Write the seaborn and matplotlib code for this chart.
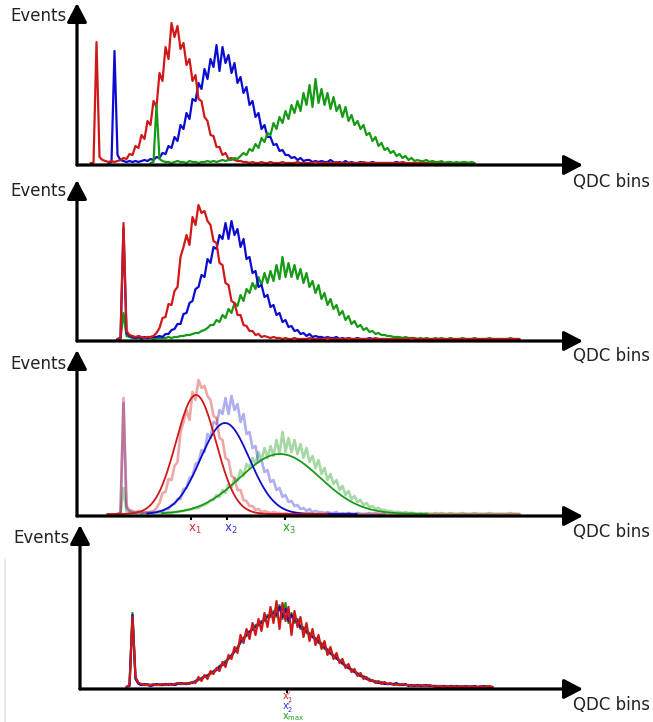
import numpy as np
import matplotlib
matplotlib.use("Agg")
import matplotlib.pyplot as plt
import seaborn as sns

# ---------------------------------------------------------------------------
# Spectra: counts per bin (bin width BIN_W QDC channels), each series starts
# at bin index *_START of its panel's channel grid.
# ---------------------------------------------------------------------------
BIN_W = 6

# Panel 1 - raw spectra, three detectors before gain matching
P1_RED_START = 4
P1_RED = [0, 0, 121, 6, 3, 2, 1, 2, 1, 2,
          3, 5, 4, 9, 8, 17, 15, 28, 24, 42,
          38, 62, 56, 90, 82, 116, 104, 140, 126, 137,
          114, 120, 98, 104, 82, 88, 64, 62, 46, 42,
          28, 27, 16, 16, 8, 10, 4, 5, 3, 2,
          2, 1, 1, 0, 1, 0, 0, 1, 0, 0,
          1, 0, 0, 0, 1, 0, 0, 0, 0, 1,
          0, 0, 0, 0, 0, 1, 0, 0, 0, 0,
          0, 0, 1, 0, 0, 0, 0, 0, 0, 0,
          0, 1, 0, 0, 0, 0, 0, 0, 0, 0,
          0, 0, 0, 0, 1, 0, 0, 0, 0, 0,
          0, 0, 0, 0, 0, 0, 0, 0, 0, 0,
          0, 0, 0, 0, 0, 0, 0, 0, 0]
P1_BLUE_START = 10
P1_BLUE = [0, 1, 112, 8, 3, 2, 1, 2, 1, 2,
           1, 2, 3, 2, 4, 3, 6, 5, 10, 9,
           17, 15, 26, 22, 38, 34, 50, 44, 64, 62,
           80, 74, 94, 84, 104, 96, 118, 92, 116, 100,
           108, 90, 100, 80, 86, 70, 76, 58, 62, 46,
           50, 34, 38, 26, 26, 18, 19, 12, 13, 8,
           8, 5, 6, 3, 5, 2, 3, 3, 1, 2,
           1, 2, 1, 1, 3, 1, 0, 1, 0, 2,
           0, 1, 0, 0, 1, 0, 0, 0, 1, 0,
           0, 0, 0, 0, 0, 0, 1, 0, 0, 0]
P1_GREEN_START = 24
P1_GREEN = [0, 1, 58, 4, 2, 1, 1, 0, 1, 2,
            1, 1, 0, 2, 1, 1, 0, 1, 1, 2,
            1, 2, 1, 2, 3, 2, 3, 3, 5, 4,
            7, 10, 8, 14, 12, 19, 15, 25, 21, 30,
            28, 40, 34, 46, 40, 52, 44, 58, 50, 62,
            52, 70, 58, 78, 56, 84, 60, 74, 58, 70,
            54, 66, 52, 58, 46, 56, 42, 48, 38, 42,
            34, 38, 28, 30, 22, 26, 17, 20, 13, 15,
            10, 12, 7, 9, 5, 7, 3, 5, 2, 3,
            2, 2, 3, 1, 2, 1, 1, 2, 0, 1,
            1, 0, 1, 0, 1, 1, 0, 1, 0]

# Panel 2 (and 3) - spectra after pedestal alignment
P2_RED_START = 13
P2_RED = [0, 1, 116, 8, 4, 3, 2, 3, 2, 1,
          2, 2, 3, 6, 11, 21, 22, 35, 34, 48,
          52, 82, 92, 104, 94, 122, 114, 134, 126, 128,
          118, 114, 98, 96, 76, 74, 56, 54, 38, 36,
          24, 24, 14, 13, 8, 8, 4, 5, 2, 3,
          2, 1, 2, 1, 1, 0, 1, 0, 0, 1,
          0, 0, 0, 0, 1, 0, 0, 0, 0, 0,
          1, 0, 0, 0, 0, 0, 0, 1, 0, 0,
          0, 0, 0, 0, 0, 0, 1, 0, 0, 0,
          0, 0, 0, 0, 0, 0, 0, 0, 1, 0,
          0, 0, 0, 0, 0, 0, 0, 0, 0, 0,
          0, 0, 0, 0, 0, 0, 0, 0, 0, 0,
          0, 0, 0, 0, 0, 0, 0, 0, 0, 0,
          0, 0, 0, 0, 0]
P2_BLUE_START = 13
P2_BLUE = [0, 1, 111, 6, 3, 2, 1, 2, 1, 2,
           1, 2, 2, 2, 3, 2, 5, 5, 9, 10,
           15, 15, 25, 26, 36, 38, 50, 52, 64, 62,
           80, 76, 92, 90, 104, 100, 116, 100, 118, 104,
           110, 92, 100, 80, 82, 66, 68, 52, 54, 42,
           44, 32, 34, 24, 26, 17, 19, 12, 13, 8,
           9, 5, 6, 3, 5, 2, 3, 2, 2, 1,
           2, 1, 1, 2, 0, 1, 0, 1, 0, 0,
           1, 0, 0, 0, 1, 0, 0, 0, 0, 0]
P2_GREEN_START = 13
P2_GREEN = [0, 0, 26, 3, 2, 1, 1, 1, 0, 1,
            1, 1, 0, 1, 1, 1, 1, 2, 1, 2,
            2, 3, 3, 4, 4, 5, 6, 6, 8, 9,
            11, 14, 14, 19, 17, 24, 21, 30, 26, 36,
            33, 44, 38, 50, 46, 56, 50, 62, 54, 66,
            56, 68, 58, 74, 60, 82, 62, 76, 62, 74,
            60, 70, 56, 66, 52, 58, 46, 54, 40, 46,
            34, 40, 30, 34, 24, 28, 19, 23, 15, 18,
            12, 14, 9, 11, 7, 8, 5, 6, 4, 4,
            3, 3, 2, 2, 2, 1, 2, 1, 1, 1,
            0, 1, 0, 1, 0, 0, 1, 0, 1, 0,
            0, 1, 0, 0, 0, 1, 0, 0, 0, 1,
            0, 0, 0, 0, 1, 0, 0, 0, 0, 0,
            0, 1, 0, 0, 0]

# Panel 3 - Gaussian fits to the aligned spectra (amplitude, mean, sigma)
FIT_RED = (119, 238, 40)
FIT_BLUE = (91, 296, 49)
FIT_GREEN = (60, 406, 80)
FIT_RANGE_RED = (60, 500)
FIT_RANGE_BLUE = (140, 560)
FIT_RANGE_GREEN = (170, 700)
P3_TICKS = [228, 300, 416]
P3_TICK_LABELS = [r"$\mathrm{x}_1$", r"$\mathrm{x}_2$", r"$\mathrm{x}_3$"]

# Panel 4 - gain-matched spectra
P4_RED_START = 15
P4_RED = [0, 2, 70, 10, 4, 3, 2, 2, 2, 3,
          2, 2, 3, 2, 3, 2, 3, 4, 3, 3,
          4, 3, 5, 4, 10, 6, 12, 8, 16, 13,
          19, 16, 25, 20, 32, 28, 40, 34, 52, 44,
          58, 48, 64, 52, 68, 56, 74, 60, 80, 64,
          86, 58, 84, 66, 80, 52, 76, 60, 70, 50,
          64, 46, 58, 42, 52, 38, 46, 32, 40, 28,
          34, 24, 28, 19, 23, 15, 18, 11, 14, 8,
          10, 6, 7, 4, 6, 3, 5, 3, 4, 2,
          3, 2, 3, 2, 2, 1, 2, 1, 2, 1,
          1, 2, 1, 0, 1, 1, 0, 1, 0, 1,
          0, 0, 1, 0, 0, 1, 0, 0, 1, 0,
          0, 1, 0]
P4_BLUE_START = 15
P4_BLUE = [0, 1, 72, 8, 3, 2, 3, 2, 1, 2,
           3, 2, 2, 3, 2, 3, 2, 3, 4, 3,
           3, 4, 4, 6, 8, 8, 11, 11, 14, 15,
           17, 20, 22, 24, 29, 31, 36, 38, 46, 48,
           53, 55, 58, 60, 62, 64, 68, 70, 72, 74,
           72, 80, 70, 78, 66, 72, 66, 66, 60, 58,
           56, 52, 50, 48, 46, 42, 40, 36, 34, 31,
           29, 26, 24, 21, 19, 17, 15, 13, 11, 10,
           8, 7, 6, 5, 4, 4, 3, 3, 3, 3,
           4, 2, 2, 3, 1, 2, 1, 2, 1, 1,
           2, 1, 1, 1, 0, 1, 1, 0, 1, 0,
           1, 0, 0, 1, 0, 0, 1, 0, 0, 1,
           0, 0, 0]
P4_GREEN_START = 15
P4_GREEN = [0, 2, 74, 9, 4, 2, 2, 3, 2, 2,
            2, 3, 2, 2, 3, 3, 2, 3, 3, 4,
            3, 4, 5, 5, 7, 9, 10, 12, 13, 16,
            18, 21, 23, 26, 28, 32, 35, 40, 44, 49,
            51, 56, 57, 62, 62, 66, 66, 72, 70, 76,
            70, 82, 68, 84, 64, 74, 64, 68, 58, 60,
            54, 54, 50, 49, 44, 44, 38, 38, 33, 32,
            28, 27, 23, 22, 19, 18, 15, 14, 11, 11,
            9, 8, 6, 6, 5, 5, 4, 3, 3, 3,
            2, 3, 2, 2, 2, 1, 1, 2, 1, 2,
            1, 1, 1, 1, 1, 0, 1, 0, 1, 1,
            0, 1, 0, 0, 1, 0, 1, 0, 0, 0,
            1, 0, 0]
P4_TICK = 414
P4_TICK_LABELS = [r"$\mathrm{x}_1^{\prime}$", r"$\mathrm{x}_2^{\prime}$",
                  r"$\mathrm{x}_{\mathrm{max}}$"]

Y_LABEL = "Events"
X_LABEL = "QDC bins"

RED, BLUE, GREEN = "#d01818", "#0c0cd0", "#169a16"
LABEL_COLORS = ["#d42a2a", "#3434e0", "#1f9f1f"]
TEXT_COLOR = "#222222"

# ---------------------------------------------------------------------------
sns.set_style("white")
plt.rcParams["font.family"] = ["DejaVu Sans"]
plt.rcParams["mathtext.fontset"] = "dejavusans"

W, H = 653, 722
fig = plt.figure(figsize=(W / 100, H / 100), dpi=100)
fig.patch.set_facecolor("white")


def make_axes(left, base, top, right=583):
    ax = fig.add_axes([left / W, 1 - base / H, (right - left) / W, (base - top) / H])
    ax.set_xlim(0, (right - left) * 2)
    ax.set_ylim(-2, base - top - 2)
    ax.patch.set_visible(False)
    return ax


def finish_axes(ax, ylab_xy, xlab_xy):
    sns.despine(ax=ax, left=True, bottom=True, right=True, top=True)
    ax.set_xlabel("")
    ax.set_ylabel("")
    ax.set_yticks([])
    arrow = dict(arrowstyle="-|>,head_length=1.15,head_width=0.6",
                 mutation_scale=10, lw=2.3, color="black",
                 shrinkA=0, shrinkB=0)
    ax.annotate("", xy=(1, 0), xytext=(0, 0), xycoords="axes fraction",
                arrowprops=arrow, annotation_clip=False, zorder=5)
    ax.annotate("", xy=(0, 1), xytext=(0, 0), xycoords="axes fraction",
                arrowprops=arrow, annotation_clip=False, zorder=5)
    fig.text(ylab_xy[0] / W, 1 - ylab_xy[1] / H, Y_LABEL, ha="right",
             va="center", fontsize=12, color=TEXT_COLOR)
    fig.text(xlab_xy[0] / W, 1 - xlab_xy[1] / H, X_LABEL, ha="left",
             va="center", fontsize=12, color=TEXT_COLOR)


def spectrum(ax, start, counts, color, alpha=1.0, lw=1.6):
    counts = np.asarray(counts, dtype=float)
    edges = (start + np.arange(len(counts) + 1)) * BIN_W
    centers = edges[:-1] + BIN_W / 2
    sns.histplot(x=centers, weights=counts, bins=edges.tolist(), element="poly",
                 fill=False, color=color, alpha=alpha, linewidth=lw,
                 ax=ax, zorder=2)


def gauss_fit(ax, params, xrange, color):
    amp, mu, sig = params
    x = np.linspace(xrange[0], xrange[1], 300)
    y = amp * np.exp(-0.5 * ((x - mu) / sig) ** 2)
    sns.lineplot(x=x, y=y, color=color, linewidth=1.3, ax=ax, zorder=3,
                 sort=False)


# Panel 1
ax1 = make_axes(77, 165, 3)
spectrum(ax1, P1_BLUE_START, P1_BLUE, BLUE)
spectrum(ax1, P1_RED_START, P1_RED, RED)
spectrum(ax1, P1_GREEN_START, P1_GREEN, GREEN)
ax1.set_xticks([])
finish_axes(ax1, (67, 16), (573, 182))

# Panel 2
ax2 = make_axes(77, 341, 180)
spectrum(ax2, P2_GREEN_START, P2_GREEN, GREEN)
spectrum(ax2, P2_BLUE_START, P2_BLUE, BLUE)
spectrum(ax2, P2_RED_START, P2_RED, RED)
ax2.set_xticks([])
finish_axes(ax2, (67, 191), (573, 356))

# Panel 3
ax3 = make_axes(77, 516, 350)
spectrum(ax3, P2_GREEN_START, P2_GREEN, GREEN, alpha=0.38, lw=1.9)
spectrum(ax3, P2_BLUE_START, P2_BLUE, BLUE, alpha=0.33, lw=1.9)
spectrum(ax3, P2_RED_START, P2_RED, RED, alpha=0.38, lw=1.9)
gauss_fit(ax3, FIT_GREEN, FIT_RANGE_GREEN, GREEN)
gauss_fit(ax3, FIT_BLUE, FIT_RANGE_BLUE, BLUE)
gauss_fit(ax3, FIT_RED, FIT_RANGE_RED, RED)
ax3.set_xticks(P3_TICKS)
ax3.set_xticklabels([])
ax3.tick_params(axis="x", bottom=True, length=3, width=1.5, color="black")
for pos, lab, col in zip(P3_TICKS, P3_TICK_LABELS, LABEL_COLORS):
    ax3.annotate(lab, xy=(pos, 0), xycoords=("data", "axes fraction"),
                 xytext=(-2.5, -10), textcoords="offset points",
                 ha="left", va="center", fontsize=8.5, color=col)
finish_axes(ax3, (67, 364), (573, 532))

# Panel 4
ax4 = make_axes(80, 689, 525)
spectrum(ax4, P4_GREEN_START, P4_GREEN, GREEN)
spectrum(ax4, P4_BLUE_START, P4_BLUE, BLUE)
spectrum(ax4, P4_RED_START, P4_RED, RED)
ax4.set_xticks([P4_TICK])
ax4.set_xticklabels([])
ax4.tick_params(axis="x", bottom=True, length=3, width=1.5, color="black")
for k, (lab, col) in enumerate(zip(P4_TICK_LABELS, LABEL_COLORS)):
    ax4.annotate(lab, xy=(P4_TICK, 0), xycoords=("data", "axes fraction"),
                 xytext=(-3.5, -6 - 7.2 * k), textcoords="offset points",
                 ha="left", va="center", fontsize=7, color=col)
finish_axes(ax4, (70, 538), (573, 705))

# faint frame edge at the lower left
fig.add_artist(plt.Line2D([5 / W, 5 / W], [0, 1 - 560 / H], color="#e8e8e8",
                          lw=1.5))

fig.savefig("out.png", dpi=100, facecolor="white")
